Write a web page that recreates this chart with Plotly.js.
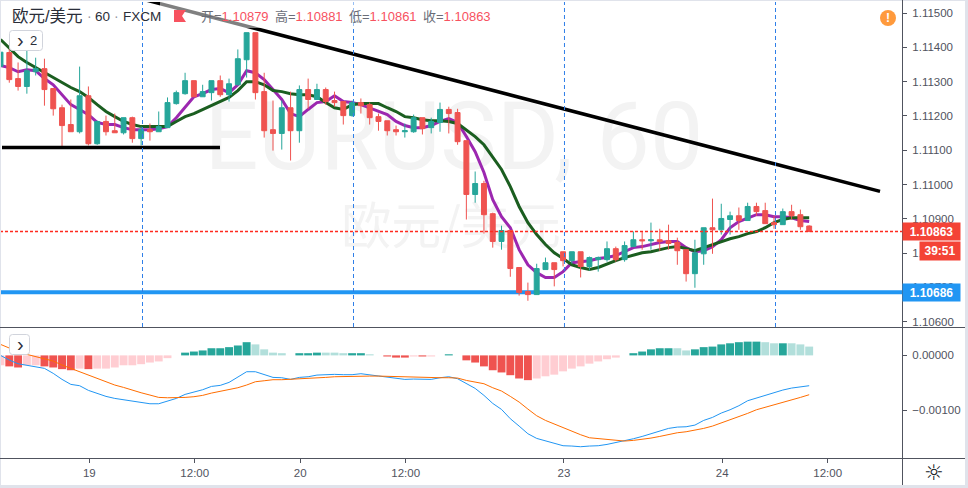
<!DOCTYPE html>
<html>
<head>
<meta charset="utf-8">
<script src="https://cdn.plot.ly/plotly-3.0.1.min.js"></script>
<style>html,body{margin:0;padding:0;background:#fff;overflow:hidden}#chart{width:968px;height:488px}</style>
</head>
<body>
<div id="chart"></div>
<script>
const barIndex = Array.from({length: 93}, (_, i) => i);
const open = [1.11345,1.11385,1.11309,1.11286,1.11329,1.11338,1.11280,1.11224,1.11175,1.11154,1.11259,1.11119,1.11184,1.11157,1.11151,1.11195,1.11134,1.11160,1.11154,1.11166,1.11236,1.11265,1.11303,1.11256,1.11268,1.11303,1.11262,1.11291,1.11364,1.11443,1.11271,1.11160,1.11149,1.11224,1.11157,1.11277,1.11248,1.11277,1.11245,1.11242,1.11201,1.11239,1.11233,1.11198,1.11186,1.11160,1.11154,1.11154,1.11195,1.11166,1.11181,1.11219,1.11210,1.11128,1.10971,1.11003,1.10915,1.10834,1.10866,1.10758,1.10688,1.10679,1.10752,1.10772,1.10804,1.10778,1.10804,1.10761,1.10781,1.10781,1.10813,1.10781,1.10819,1.10839,1.10836,1.10839,1.10836,1.10831,1.10810,1.10740,1.10798,1.10874,1.10868,1.10898,1.10909,1.10895,1.10936,1.10924,1.10889,1.10883,1.10921,1.10912,1.10879];
const high = [1.11394,1.11394,1.11356,1.11391,1.11370,1.11367,1.11280,1.11233,1.11248,1.11344,1.11286,1.11186,1.11201,1.11207,1.11195,1.11198,1.11169,1.11178,1.11213,1.11254,1.11274,1.11326,1.11303,1.11291,1.11303,1.11318,1.11309,1.11394,1.11443,1.11443,1.11326,1.11245,1.11245,1.11271,1.11289,1.11309,1.11294,1.11283,1.11271,1.11242,1.11245,1.11251,1.11239,1.11207,1.11186,1.11172,1.11178,1.11204,1.11195,1.11195,1.11239,1.11227,1.11221,1.11128,1.11038,1.11011,1.10918,1.10880,1.10866,1.10758,1.10714,1.10769,1.10787,1.10772,1.10804,1.10804,1.10804,1.10790,1.10790,1.10834,1.10819,1.10834,1.10863,1.10863,1.10889,1.10871,1.10883,1.10845,1.10810,1.10839,1.10874,1.10959,1.10944,1.10921,1.10933,1.10947,1.10947,1.10947,1.10909,1.10930,1.10941,1.10927,1.10881];
const low = [1.11335,1.11297,1.11274,1.11265,1.11318,1.11230,1.11201,1.11105,1.11154,1.11149,1.11114,1.11116,1.11143,1.11151,1.11146,1.11122,1.11114,1.11128,1.11154,1.11166,1.11233,1.11262,1.11256,1.11256,1.11245,1.11256,1.11242,1.11289,1.11312,1.11248,1.11137,1.11099,1.11102,1.11070,1.11122,1.11221,1.11248,1.11233,1.11227,1.11175,1.11198,1.11207,1.11175,1.11157,1.11143,1.11143,1.11137,1.11151,1.11146,1.11149,1.11154,1.11149,1.11116,1.10898,1.10947,1.10857,1.10816,1.10810,1.10731,1.10676,1.10661,1.10679,1.10752,1.10703,1.10761,1.10769,1.10729,1.10749,1.10746,1.10775,1.10775,1.10775,1.10819,1.10810,1.10810,1.10807,1.10810,1.10766,1.10717,1.10699,1.10766,1.10798,1.10854,1.10854,1.10868,1.10895,1.10909,1.10886,1.10871,1.10883,1.10898,1.10868,1.10861];
const close = [1.11386,1.11306,1.11286,1.11332,1.11338,1.11277,1.11221,1.11172,1.11154,1.11259,1.11119,1.11184,1.11154,1.11151,1.11195,1.11134,1.11160,1.11154,1.11169,1.11239,1.11268,1.11303,1.11256,1.11271,1.11303,1.11262,1.11294,1.11367,1.11443,1.11268,1.11157,1.11149,1.11224,1.11157,1.11277,1.11248,1.11277,1.11242,1.11239,1.11201,1.11239,1.11230,1.11195,1.11184,1.11157,1.11154,1.11157,1.11195,1.11163,1.11184,1.11219,1.11207,1.11125,1.10971,1.11003,1.10912,1.10834,1.10866,1.10755,1.10685,1.10679,1.10755,1.10772,1.10752,1.10778,1.10804,1.10761,1.10787,1.10787,1.10813,1.10781,1.10822,1.10839,1.10836,1.10839,1.10834,1.10828,1.10807,1.10740,1.10801,1.10874,1.10868,1.10901,1.10909,1.10895,1.10936,1.10921,1.10886,1.10883,1.10921,1.10909,1.10877,1.10863];
const maFast = [1.11347,1.11341,1.11329,1.11335,1.11332,1.11309,1.11291,1.11262,1.11233,1.11219,1.11204,1.11181,1.11175,1.11175,1.11166,1.11160,1.11160,1.11160,1.11163,1.11169,1.11195,1.11227,1.11256,1.11265,1.11277,1.11280,1.11268,1.11291,1.11332,1.11326,1.11306,1.11277,1.11248,1.11207,1.11198,1.11219,1.11239,1.11242,1.11259,1.11242,1.11239,1.11233,1.11224,1.11213,1.11204,1.11184,1.11172,1.11166,1.11166,1.11172,1.11184,1.11192,1.11181,1.11140,1.11096,1.11035,1.10956,1.10906,1.10874,1.10810,1.10766,1.10743,1.10729,1.10729,1.10746,1.10772,1.10775,1.10778,1.10784,1.10787,1.10793,1.10804,1.10816,1.10819,1.10825,1.10831,1.10834,1.10834,1.10816,1.10804,1.10807,1.10819,1.10839,1.10874,1.10892,1.10903,1.10912,1.10912,1.10906,1.10906,1.10903,1.10895,1.10892];
const maSlow = [1.11423,1.11399,1.11373,1.11356,1.11341,1.11326,1.11312,1.11297,1.11283,1.11271,1.11254,1.11233,1.11213,1.11198,1.11184,1.11175,1.11169,1.11169,1.11169,1.11169,1.11184,1.11198,1.11207,1.11219,1.11230,1.11242,1.11254,1.11274,1.11300,1.11300,1.11291,1.11274,1.11271,1.11265,1.11262,1.11262,1.11256,1.11239,1.11224,1.11219,1.11233,1.11236,1.11236,1.11236,1.11224,1.11213,1.11198,1.11195,1.11189,1.11186,1.11186,1.11184,1.11178,1.11160,1.11140,1.11116,1.11081,1.11044,1.10994,1.10936,1.10889,1.10854,1.10825,1.10801,1.10784,1.10766,1.10758,1.10752,1.10758,1.10769,1.10778,1.10787,1.10793,1.10801,1.10804,1.10810,1.10816,1.10819,1.10813,1.10807,1.10816,1.10825,1.10834,1.10842,1.10848,1.10857,1.10863,1.10874,1.10889,1.10898,1.10903,1.10903,1.10903];
const histogram = [-0.00018,-0.00020,-0.00022,-0.00018,-0.00018,-0.00020,-0.00022,-0.00025,-0.00027,-0.00024,-0.00025,-0.00024,-0.00024,-0.00022,-0.00018,-0.00018,-0.00016,-0.00013,-0.00011,-0.00005,0,0.00005,0.00007,0.00009,0.00013,0.00013,0.00015,0.00018,0.00024,0.00020,0.00011,0.00005,0.00004,0,0.00004,0.00004,0.00005,0.00005,0.00005,0.00004,0.00004,0.00004,0.00002,0,-0.00002,-0.00004,-0.00004,-0.00002,-0.00002,-0.00002,0,0.00002,0,-0.00009,-0.00013,-0.00020,-0.00027,-0.00031,-0.00036,-0.00042,-0.00045,-0.00042,-0.00038,-0.00035,-0.00029,-0.00024,-0.00020,-0.00015,-0.00011,-0.00007,-0.00004,0,0.00004,0.00007,0.00011,0.00013,0.00013,0.00013,0.00009,0.00011,0.00015,0.00016,0.00020,0.00022,0.00024,0.00025,0.00025,0.00024,0.00022,0.00022,0.00022,0.00020,0.00016];
const histStrong = [0,1,1,0,0,1,1,1,1,0,1,0,0,0,0,0,0,0,0,0,0,1,1,1,1,1,1,1,1,0,0,0,0,0,1,1,1,0,0,0,1,1,0,0,1,1,1,0,1,0,0,1,0,1,1,1,1,1,1,1,1,0,0,0,0,0,0,0,0,0,0,0,1,1,1,1,1,0,0,1,1,1,1,1,1,1,1,0,0,1,0,0,0];
const macdLine = [0,-0.000085,-0.000152,-0.000176,-0.000200,-0.000236,-0.000327,-0.000436,-0.000527,-0.000551,-0.000636,-0.000697,-0.000745,-0.000782,-0.000806,-0.000836,-0.000861,-0.000879,-0.000879,-0.000836,-0.000782,-0.000709,-0.000673,-0.000624,-0.000564,-0.000545,-0.000491,-0.000394,-0.000297,-0.000297,-0.000345,-0.000400,-0.000406,-0.000436,-0.000400,-0.000388,-0.000358,-0.000351,-0.000345,-0.000351,-0.000351,-0.000333,-0.000351,-0.000376,-0.000394,-0.000418,-0.000436,-0.000430,-0.000436,-0.000436,-0.000406,-0.000388,-0.000424,-0.000515,-0.000600,-0.000727,-0.000873,-0.000982,-0.001151,-0.001285,-0.001424,-0.001509,-0.001557,-0.001606,-0.001642,-0.001648,-0.001660,-0.001648,-0.001642,-0.001618,-0.001588,-0.001551,-0.001515,-0.001473,-0.001424,-0.001376,-0.001327,-0.001303,-0.001297,-0.001267,-0.001182,-0.001127,-0.001048,-0.000988,-0.000915,-0.000824,-0.000776,-0.000721,-0.000685,-0.000630,-0.000594,-0.000570,-0.000551];
const signalLine = [0.000200,0.000127,0.000067,0.000018,-0.000024,-0.000055,-0.000103,-0.000176,-0.000236,-0.000297,-0.000364,-0.000418,-0.000479,-0.000539,-0.000582,-0.000636,-0.000679,-0.000721,-0.000764,-0.000770,-0.000770,-0.000764,-0.000751,-0.000727,-0.000685,-0.000654,-0.000624,-0.000588,-0.000539,-0.000479,-0.000461,-0.000442,-0.000442,-0.000436,-0.000418,-0.000418,-0.000406,-0.000400,-0.000388,-0.000382,-0.000376,-0.000376,-0.000376,-0.000376,-0.000382,-0.000382,-0.000388,-0.000400,-0.000406,-0.000406,-0.000406,-0.000406,-0.000412,-0.000455,-0.000479,-0.000515,-0.000588,-0.000648,-0.000745,-0.000848,-0.000976,-0.001097,-0.001182,-0.001248,-0.001315,-0.001382,-0.001442,-0.001497,-0.001515,-0.001533,-0.001551,-0.001557,-0.001545,-0.001527,-0.001503,-0.001473,-0.001436,-0.001406,-0.001388,-0.001364,-0.001327,-0.001285,-0.001230,-0.001176,-0.001115,-0.001054,-0.000988,-0.000945,-0.000897,-0.000854,-0.000806,-0.000764,-0.000715];
const priceTicks = [1.106,1.107,1.108,1.109,1.110,1.111,1.112,1.113,1.114,1.115];
const macdTicks = [0,-0.001];
const timeTickBars = [10.1,22.1,34.1,46.1,64.1,82.1,94.1];
const timeTickLabels = ['19','12:00','20','12:00','23','24','12:00'];
const sessionBars = [16.155,40.16,64.16,88.17];
const trendX = [16.44,100.06], trendY = [1.11539,1.10980];
const supportX = [0.17,24.97], supportY = [1.11108,1.11108];
const resistanceLevel = 1.10686, lastPrice = 1.10863;

const W = 968, H = 488, AX = 902;
const px = x => x / W, py = y => 1 - y / H;
const FONT = '"Liberation Sans","Noto Sans CJK SC",sans-serif';
const TXT = '#50535e', FRAME = '#e0e3eb', RED = '#ef5350', UP = '#26a69a';
const PRICE_RANGE = [1.105845, 1.115324];

function rr(x0, y0, x1, y1, r) {
  const X0 = px(x0), X1 = px(x1), Y0 = py(y0), Y1 = py(y1), rx = r / W, ry = r / H;
  return `M${X0 + rx},${Y0} L${X1 - rx},${Y0} Q${X1},${Y0} ${X1},${Y0 - ry} L${X1},${Y1 + ry} Q${X1},${Y1} ${X1 - rx},${Y1} L${X0 + rx},${Y1} Q${X0},${Y1} ${X0},${Y1 + ry} L${X0},${Y0 - ry} Q${X0},${Y0} ${X0 + rx},${Y0} Z`;
}
function pline(x0, y0, x1, y1, color, width) {
  return {type:'line', xref:'paper', yref:'paper', x0:px(x0), x1:px(x1), y0:py(y0), y1:py(y1), line:{color, width}};
}
function prect(x0, y0, x1, y1, color) {
  return {type:'rect', xref:'paper', yref:'paper', x0:px(x0), x1:px(x1), y0:py(y0), y1:py(y1), fillcolor:color, line:{width:0}};
}
function note(x, y, text, size, color, extra) {
  return Object.assign({xref:'paper', yref:'paper', x:px(x), y:py(y), text, showarrow:false, xanchor:'left', yanchor:'middle',
    font:{family:FONT, size, color}, borderpad:0}, extra || {});
}
function watermark(x0, y0, x1, y1, text, size, family) {
  return {type:'rect', layer:'below', xref:'paper', yref:'paper', x0:px(x0), x1:px(x1), y0:py(y0), y1:py(y1),
    fillcolor:'rgba(0,0,0,0)', line:{width:0},
    label:{text, textposition:'middle center', font:{family, size, color:'#f3f3f3'}}};
}

const traces = [
  {type:'scatter', mode:'lines', x:barIndex, y:maFast, yaxis:'y', line:{color:'#9c27b0', width:3}},
  {type:'scatter', mode:'lines', x:barIndex, y:maSlow, yaxis:'y', line:{color:'#1b5e20', width:3}},
  {type:'candlestick', x:barIndex, open, high, low, close, xaxis:'x', yaxis:'y3',
   increasing:{line:{color:UP, width:1}, fillcolor:UP},
   decreasing:{line:{color:RED, width:1}, fillcolor:RED}, whiskerwidth:0, hoverinfo:'skip'},
  {type:'scatter', mode:'lines', x:trendX, y:trendY, yaxis:'y3', line:{color:'#000', width:3.5}},
  {type:'scatter', mode:'lines', x:supportX, y:supportY, yaxis:'y3', line:{color:'#000', width:3.5}},
  {type:'bar', x:barIndex, y:histogram, yaxis:'y2', width:0.9,
   marker:{line:{width:0}, color:histogram.map((v, i) => v >= 0
     ? (histStrong[i] ? UP : '#b2dfdb') : (histStrong[i] ? RED : '#ffcdd2'))}},
  {type:'scatter', mode:'lines', x:barIndex, y:macdLine, yaxis:'y2', line:{color:'#2196f3', width:1}},
  {type:'scatter', mode:'lines', x:barIndex, y:signalLine, yaxis:'y2', line:{color:'#ff6d00', width:1}}
];

const shapes = [
  watermark(100, 89, 808, 169, 'EURUSD, 60', 95, 'Roboto,sans-serif'),
  watermark(300, 205, 602, 255, '欧元/美元', 50, '"Noto Sans CJK SC",sans-serif'),
  {type:'line', layer:'below', xref:'paper', yref:'y', x0:0, x1:px(AX), y0:resistanceLevel, y1:resistanceLevel, line:{color:'#2196f3', width:4}},
  ...sessionBars.map(b => ({type:'line', xref:'x', yref:'paper', x0:b, x1:b, y0:py(327), y1:py(2), line:{color:'#2f7fe8', width:1, dash:'4px,3px'}})),
  {type:'line', xref:'paper', yref:'y', x0:0, x1:px(AX), y0:lastPrice, y1:lastPrice, line:{color:'#ff2a1f', width:1.4, dash:'3px,2px'}},
  prect(160, 0, 495, 28, 'rgba(255,255,255,0.5)'),
  prect(0, 0, 968, 1, FRAME), prect(0, 0, 1, 488, FRAME), prect(965, 0, 968, 488, FRAME), prect(0, 485, 968, 488, FRAME),
  pline(0, 327.5, 965, 327.5, TXT, 1),
  pline(0, 458.5, 965, 458.5, TXT, 1),
  pline(902.5, 0, 902.5, 485, TXT, 1),
  {type:'path', xref:'paper', yref:'paper', path:`M${px(174)},${py(10)} L${px(186)},${py(10)} L${px(182)},${py(16)} L${px(186)},${py(22)} L${px(174)},${py(22)} Z`, fillcolor:'#f7525f', line:{width:0}},
  {type:'path', xref:'paper', yref:'paper', path:rr(9.5, 30.5, 42.5, 50.5, 3), fillcolor:'#fff', line:{color:'#d1d4dc', width:1}},
  {type:'path', xref:'paper', yref:'paper', path:rr(9.5, 334.5, 29.5, 354.5, 3), fillcolor:'#fff', line:{color:'#d1d4dc', width:1}},
  {type:'circle', xref:'paper', yref:'paper', x0:px(880), x1:px(896), y0:py(10), y1:py(26), fillcolor:'#ff9a3c', line:{width:0}}
];

const priceLabel = (y, text, bg, x, width) => ({xref:'paper', yref:'y', x:px(x), y, text, showarrow:false, xanchor:'left', yanchor:'middle',
  width, height:17, align:'center', bgcolor:bg, borderpad:0, font:{family:FONT, size:12, color:'#fff', weight:700}});

const annotations = [
  note(11, 16, '欧元/美元', 16.5, '#2a2e39'),
  note(86, 16, '·', 14, '#9598a1'),
  note(94, 16, '60', 13.5, '#2a2e39'),
  note(113, 16, '·', 14, '#9598a1'),
  note(122, 16, 'FXCM', 13.5, '#2a2e39'),
  ...[['开', '1.10879', 200], ['高', '1.10881', 274], ['低', '1.10861', 348], ['收', '1.10863', 422]].map(([k, v, x]) =>
    note(x, 16, `<span style="color:#6a6d78">${k}=</span><span style="color:#f7525f">${v}</span>`, 13, RED)),
  note(888, 18, '!', 12, '#fff', {xanchor:'center', font:{family:FONT, size:12, color:'#fff', weight:700}}),
  note(16, 40.5, '›', 20, '#2a2e39'),
  note(29, 40.5, '2', 13, '#2a2e39'),
  note(16, 344, '›', 20, '#2a2e39'),
  note(934, 472, '☼', 22, '#131722', {xanchor:'center', font:{family:'"DejaVu Sans",sans-serif', size:22, color:'#131722'}}),
  priceLabel(lastPrice, '1.10863', '#f44336', 902, 57),
  priceLabel(resistanceLevel, '1.10686', '#2196f3', 902, 57),
  {xref:'paper', yref:'paper', x:px(919), y:py(251), text:'39:51', showarrow:false, xanchor:'left', yanchor:'middle',
   width:40, height:18, align:'center', bgcolor:'#f44336', borderpad:0, font:{family:FONT, size:12, color:'#fff', weight:700}}
];

const layout = {
  width:W, height:H, margin:{l:0, r:0, t:0, b:0}, paper_bgcolor:'#fff', plot_bgcolor:'rgba(0,0,0,0)',
  showlegend:false, hovermode:false, barmode:'overlay', boxgap:0.2, font:{family:FONT, size:11, color:TXT},
  xaxis:{domain:[0, px(AX)], range:[-0.057, 102.56], anchor:'y2', showgrid:false, zeroline:false, showline:false,
    rangeslider:{visible:false}, tickmode:'array', tickvals:timeTickBars, ticktext:timeTickLabels,
    ticks:'outside', ticklen:4, tickcolor:TXT, tickfont:{family:FONT, size:11.5, color:TXT}},
  yaxis:{domain:[py(327), py(2)], range:PRICE_RANGE, anchor:'x', side:'right', showgrid:false, zeroline:false,
    tickmode:'array', tickvals:priceTicks, tickformat:'.5f', ticks:'outside', ticklen:4, tickcolor:TXT,
    ticklabelstandoff:3, tickfont:{family:FONT, size:11.5, color:TXT}},
  yaxis2:{domain:[py(458), py(327)], range:[-0.001865, 0.000516], anchor:'x', side:'right', showgrid:false, zeroline:false,
    tickmode:'array', tickvals:macdTicks, tickformat:'.5f', ticks:'outside', ticklen:4, tickcolor:TXT,
    ticklabelstandoff:3, tickfont:{family:FONT, size:11.5, color:TXT}},
  yaxis3:{overlaying:'y', range:PRICE_RANGE, anchor:'x', side:'right', visible:false, showgrid:false, zeroline:false},
  shapes, annotations
};

Plotly.newPlot('chart', traces, layout, {displayModeBar:false, staticPlot:true});
</script>
</body>
</html>
